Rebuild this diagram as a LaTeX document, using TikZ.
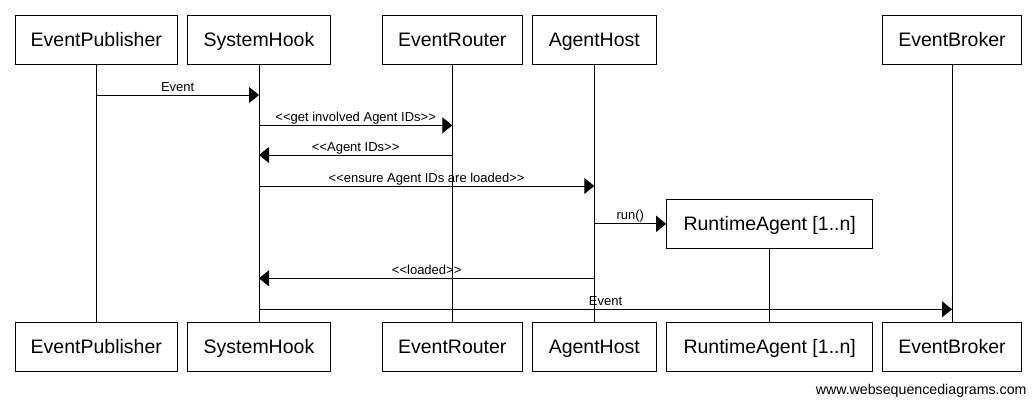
\documentclass[tikz,border=0pt]{standalone}
\usepackage{fontspec}
\setmainfont{Liberation Sans}[Ligatures=TeXOff]
\usetikzlibrary{arrows.meta}
\begin{document}
\begin{tikzpicture}[x=1pt,y=-1pt,
  actor/.style={draw, line width=1pt, inner sep=0pt, minimum height=49pt,
    font=\fontsize{19.5}{22}\selectfont, text height=14pt, text depth=0pt},
  lifeline/.style={line width=1pt},
  msg/.style={line width=1pt, -{Triangle[length=10pt,width=16pt]}},
  lbl/.style={font=\fontsize{13}{15}\selectfont, anchor=base, inner sep=0pt, yshift=4pt},
]
\useasboundingbox (0,0) rectangle (1036,405);
% top actors
\node[actor, minimum width=162pt] (tPub) at (96.3,39.5) {EventPublisher};
\node[actor, minimum width=143pt] (tHook) at (259,39.5) {SystemHook};
\node[actor, minimum width=140pt] (tRouter) at (452.3,39.5) {EventRouter};
\node[actor, minimum width=124.3pt] (tHost) at (594.3,39.5) {AgentHost};
\node[actor, minimum width=139pt] (tBroker) at (952,39.5) {EventBroker};
\node[actor, minimum width=206pt] (ra) at (769.7,223.8) {RuntimeAgent [1..n]};
% bottom actors
\node[actor, minimum width=162pt] (bPub) at (96.3,346.8) {EventPublisher};
\node[actor, minimum width=143pt] (bHook) at (259,346.8) {SystemHook};
\node[actor, minimum width=140pt] (bRouter) at (452.3,346.8) {EventRouter};
\node[actor, minimum width=124.3pt] (bHost) at (594.3,346.8) {AgentHost};
\node[actor, minimum width=206pt] (bRA) at (769.7,346.8) {RuntimeAgent [1..n]};
\node[actor, minimum width=139pt] (bBroker) at (952,346.8) {EventBroker};
% lifelines
\draw[lifeline] (tPub) -- (bPub);
\draw[lifeline] (tHook) -- (bHook);
\draw[lifeline] (tRouter) -- (bRouter);
\draw[lifeline] (tHost) -- (bHost);
\draw[lifeline] (ra) -- (bRA);
\draw[lifeline] (tBroker) -- (bBroker);
% messages
\draw[msg] (tPub |- 0,95) -- node[lbl] {Event} (tHook |- 0,95);
\draw[msg] (tHook |- 0,125.3) -- node[lbl] {<\kern0pt<get involved Agent IDs>\kern0pt>} (tRouter |- 0,125.3);
\draw[msg] (tRouter |- 0,155) -- node[lbl] {<\kern0pt<Agent IDs>\kern0pt>} (tHook |- 0,155);
\draw[msg] (tHook |- 0,186) -- node[lbl] {<\kern0pt<ensure Agent IDs are loaded>\kern0pt>} (tHost |- 0,186);
\draw[msg] (tHost |- ra.west) -- node[lbl] {run()} (ra.west);
\draw[msg] (tHost |- 0,278.3) -- node[lbl] {<\kern0pt<loaded>\kern0pt>} (tHook |- 0,278.3);
\draw[msg] (tHook |- 0,309.3) -- node[lbl] {Event} (tBroker |- 0,309.3);
% footer
\node[font=\fontsize{14.2}{16}\selectfont, anchor=base east, inner sep=0pt] (footer) at (1026.7,394) {www.websequencediagrams.com};
\end{tikzpicture}
\end{document}
